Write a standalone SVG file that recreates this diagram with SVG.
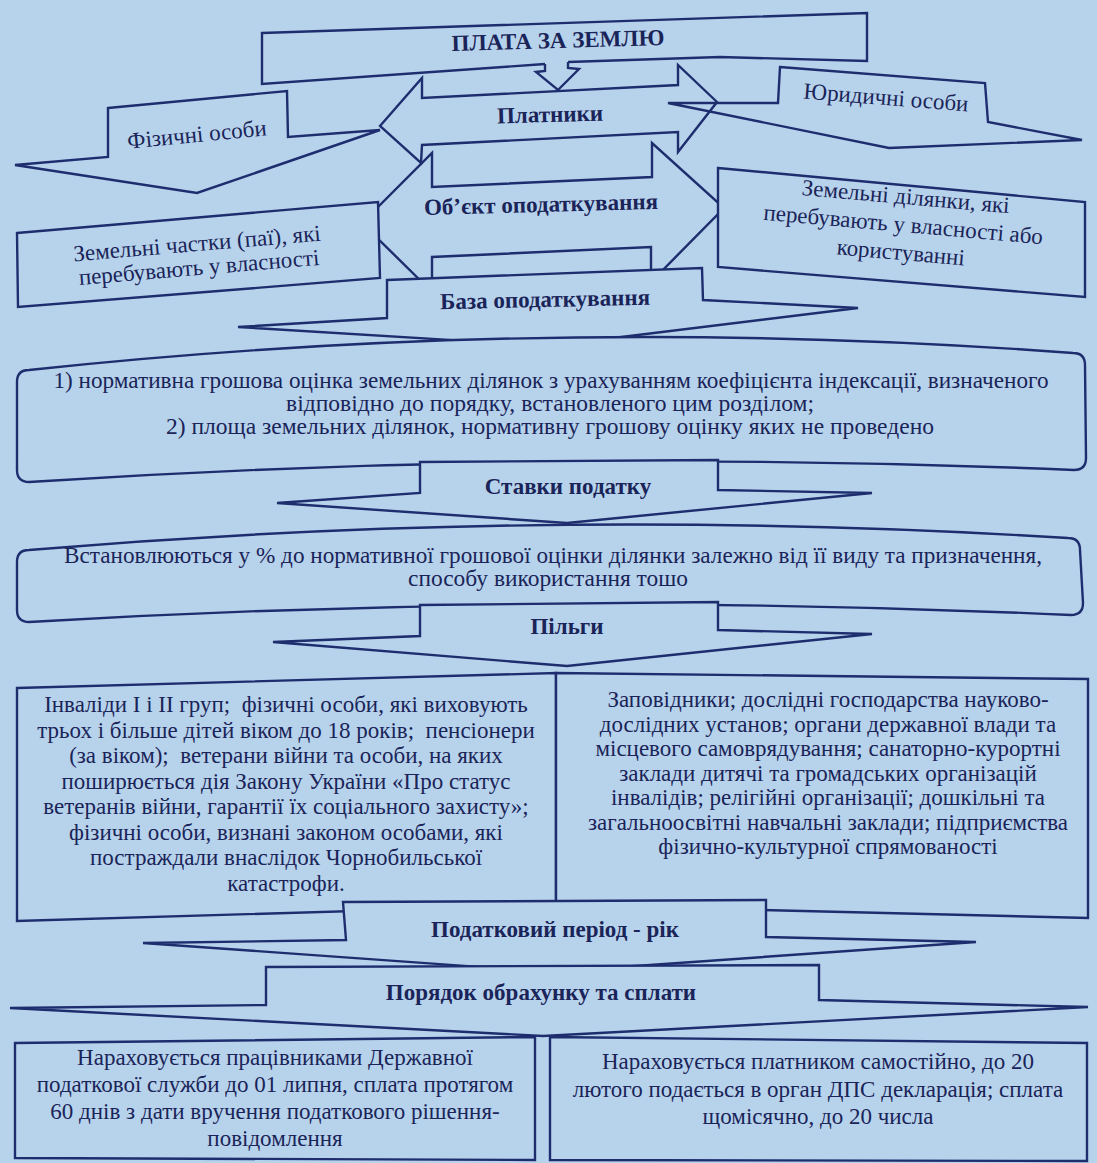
<svg xmlns="http://www.w3.org/2000/svg" width="1097" height="1163" viewBox="0 0 1097 1163">
<style>
.s{fill:none;stroke:#1e2d6e;stroke-width:2.4;stroke-linejoin:miter}
.f{fill:#b7d3ec;stroke:#1e2d6e;stroke-width:2.4;stroke-linejoin:miter}
.t{font-family:"Liberation Serif","Times New Roman",serif;fill:#1a2458;text-anchor:middle;font-size:23px}
.b{font-weight:bold}
</style>
<rect width="1097" height="1163" fill="#b7d3ec"/>
<g id="plata">
<path class="f" d="M262,33 L867,13 L867,61 L720,57 L568,62 L545,64 L262,84 Z"/>
<text class="t b" x="558" y="48" transform="rotate(-1.6 558 42)">ПЛАТА ЗА ЗЕМЛЮ</text>
</g>
<g id="connectors">
<path d="M545,62 L545,71 L536,72 L558,90 L579,69 L568,68 L568,60 Z" fill="#b7d3ec"/>
<path class="s" d="M545,64 L545,71 L536,72 L558,90 L579,69 L568,68 L568,62"/>
</g>
<g id="platnyky">
<path class="s" d="M380,126 L422,78 L422,98 L678,85 L678,65 L717,102 L678,152 L678,132 L422,145 L421,163 Z"/>
<text class="t b" x="550" y="122" transform="rotate(-1.6 550 115)">Платники</text>
</g>
<g id="fizychni">
<path class="s" d="M108,108 L287,91 L288,137 L380,130 L197,193 L15,165 L108,157 Z"/>
<text class="t" x="197" y="142" font-size="21" transform="rotate(-5.5 197 135)">Фізичні особи</text>
</g>
<g id="yurydychni">
<path class="s" d="M780,67 L985,83 L988,122 L1082,140 L889,148 L668,103 L778,103 Z"/>
<text class="t" x="886" y="105" font-size="22" transform="rotate(4.5 886 98)">Юридичні особи</text>
</g>
<g id="obiekt">
<path class="s" d="M362,223 L432,153 L432,187 L652,177 L652,143 L724,208 L651,282 L651,247 L432,257 L432,292 Z"/>
<text class="t b" x="541" y="212" transform="rotate(-1.5 541 205)">Об’єкт оподаткування</text>
</g>
<g id="chastky">
<path class="f" d="M17,233 L378,202 L380,278 L18,307 Z"/>
<text class="t" font-size="21" transform="rotate(-4.8 198 256)"><tspan x="198" y="251">Земельні частки (паї), які</tspan><tspan x="198" y="275">перебувають у власності</tspan></text>
</g>
<g id="dilyanky">
<path class="f" d="M718,168 L1085,202 L1085,297 L718,267 Z"/>
<text class="t" font-size="22" transform="rotate(5 903 228)"><tspan x="903" y="204">Земельні ділянки, які</tspan><tspan x="903" y="232">перебувають у власності або</tspan><tspan x="903" y="260">користуванні</tspan></text>
</g>
<g id="baza">
<path class="f" d="M387,280 L702,268 L703,300 L858,308 L548,346 L238,327 L387,318 Z"/>
<text class="t b" x="545" y="307" transform="rotate(-1.2 545 300)">База оподаткування</text>
</g>
<g id="baza-text">
<path class="f" d="M29,370 Q550,314 1073,353 Q1085,353 1085,365 L1086,458 Q1086,470 1074,470 Q550,448 29,482 Q17,482 17,470 L17,382 Q17,370 29,370 Z"/>
<text class="t" font-size="20" lengthAdjust="spacingAndGlyphs"><tspan x="551" y="388" textLength="995" lengthAdjust="spacingAndGlyphs">1) нормативна грошова оцінка земельних ділянок з урахуванням коефіцієнта індексації, визначеного</tspan></text>
<text class="t" font-size="20"><tspan x="550" y="411" textLength="528" lengthAdjust="spacingAndGlyphs">відповідно до порядку, встановленого цим розділом;</tspan></text>
<text class="t" font-size="20"><tspan x="550" y="434" textLength="768" lengthAdjust="spacingAndGlyphs">2) площа земельних ділянок, нормативну грошову оцінку яких не проведено</tspan></text>
</g>
<g id="stavky">
<path class="f" d="M420,462 L718,460 L718,490 L872,493 L567,523 L277,503 L420,493 Z"/>
<text class="t b" x="568" y="494">Ставки податку</text>
</g>
<g id="stavky-text">
<path class="f" d="M29,550 Q550,506 1068,538 Q1080,538 1080,550 L1083,603 Q1083,615 1071,615 Q550,591 29,622 Q17,622 17,610 L17,562 Q17,550 29,550 Z"/>
<text class="t" font-size="20"><tspan x="553" y="563" textLength="978" lengthAdjust="spacingAndGlyphs">Встановлюються у % до нормативної грошової оцінки ділянки залежно від її виду та призначення,</tspan></text>
<text class="t" font-size="20"><tspan x="548" y="586" textLength="280" lengthAdjust="spacingAndGlyphs">способу використання тошо</tspan></text>
</g>
<g id="pilgy">
<path class="f" d="M420,605 L718,602 L718,630 L872,634 L567,666 L273,642 L420,636 Z"/>
<text class="t b" x="567" y="634">Пільги</text>
</g>
<g id="pilgy-left">
<path class="f" d="M17,688 L556,673 L556,905 L17,921 Z"/>
<text class="t"><tspan x="286" y="712">Інваліди І і ІІ груп;&#160; фізичні особи, які виховують</tspan><tspan x="286" y="737.5">трьох і більше дітей віком до 18 років;&#160; пенсіонери</tspan><tspan x="286" y="763">(за віком);&#160; ветерани війни та особи, на яких</tspan><tspan x="286" y="788.5">поширюється дія Закону України «Про статус</tspan><tspan x="286" y="814">ветеранів війни, гарантії їх соціального захисту»;</tspan><tspan x="286" y="839.5">фізичні особи, визнані законом особами, які</tspan><tspan x="286" y="865">постраждали внаслідок Чорнобильської</tspan><tspan x="286" y="890.5">катастрофи.</tspan></text>
</g>
<g id="pilgy-right">
<path class="f" d="M556,673 L1088,679 L1088,918 L556,905 Z"/>
<text class="t"><tspan x="828" y="707">Заповідники; дослідні господарства науково-</tspan><tspan x="828" y="731.5">дослідних установ; органи державної влади та</tspan><tspan x="828" y="756">місцевого самоврядування; санаторно-курортні</tspan><tspan x="828" y="780.5">заклади дитячі та громадських організацій</tspan><tspan x="828" y="805">інвалідів; релігійні організації; дошкільні та</tspan><tspan x="828" y="829.5">загальноосвітні навчальні заклади; підприємства</tspan><tspan x="828" y="854">фізично-культурної спрямованості</tspan></text>
</g>
<g id="period">
<path class="f" d="M343,902 L766,900 L766,937 L976,942 L550,972 L143,943 L346,940 Z"/>
<text class="t b" x="555" y="937">Податковий період - рік</text>
</g>
<g id="poryadok">
<path class="f" d="M266,967 L819,965 L819,1000 L1088,1007 L543,1036 L10,1008 L266,1005 Z"/>
<text class="t b" x="541" y="1000">Порядок обрахунку та сплати</text>
</g>
<g id="poryadok-left">
<path class="f" d="M15,1043 L535,1037 L535,1160 L15,1158 Z"/>
<text class="t"><tspan x="275" y="1065">Нараховується працівниками Державної</tspan><tspan x="275" y="1092">податкової служби до 01 липня, сплата протягом</tspan><tspan x="275" y="1119">60 днів з дати вручення податкового рішення-</tspan><tspan x="275" y="1146">повідомлення</tspan></text>
</g>
<g id="poryadok-right">
<path class="f" d="M550,1037 L1087,1043 L1087,1161 L550,1160 Z"/>
<text class="t"><tspan x="818" y="1069">Нараховується платником самостійно, до 20</tspan><tspan x="818" y="1097">лютого подається в орган ДПС декларація; сплата</tspan><tspan x="818" y="1124">щомісячно, до 20 числа</tspan></text>
</g>
</svg>
